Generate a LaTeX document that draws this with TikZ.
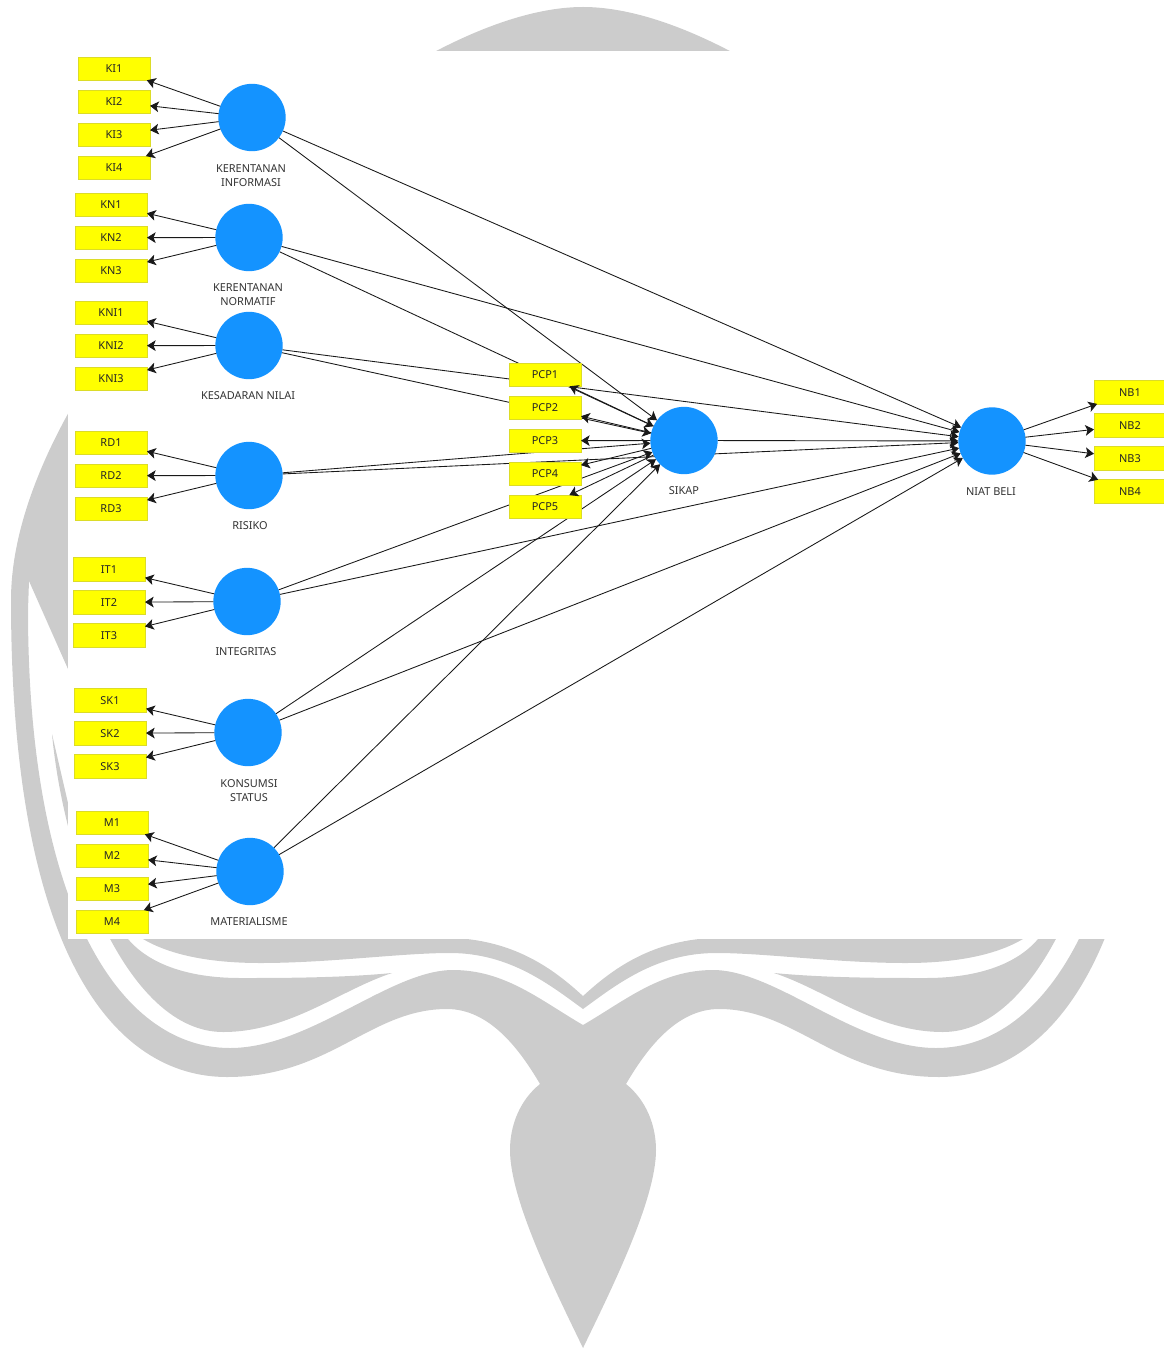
\documentclass[tikz,border=0pt]{standalone}
\usepackage{fontspec}
\setmainfont{Noto Sans}
\usetikzlibrary{arrows.meta,backgrounds}
\definecolor{indfill}{HTML}{FFFF00}
\definecolor{indline}{HTML}{DCDC28}
\definecolor{latfill}{HTML}{1493FF}
\definecolor{wmgrey}{HTML}{CCCCCC}
\definecolor{lbltext}{HTML}{333333}
\tikzset{
    ind/.style={draw=indline,fill=indfill,line width=0.6pt,minimum width=54pt,minimum height=17.4pt,inner sep=0pt,outer sep=0pt,font=\fontsize{8.2}{10}\selectfont,text=black!85},
    lat/.style={circle,fill=latfill,minimum size=50.5pt,inner sep=0pt,outer sep=0pt},
    lbl/.style={align=center,font=\fontsize{8.2}{10.8}\selectfont,text=lbltext,inner sep=0pt},
    lnk/.style={line width=0.65pt,black!90,-{Stealth[length=6.5pt,width=8pt,inset=1.6pt]}},
    wm/.style={fill=wmgrey}
}
\newcommand{\wmhalf}{
    %% outer band and stem
    \fill[wm] (583,7) .. controls (383,7) and (11,360) .. (11,600)
        .. controls (11,956) and (115,1077) .. (227,1077)
        .. controls (330,1077) and (370,1009) .. (447,1009)
        .. controls (490,1009) and (520,1050) .. (540,1084)
        .. controls (520,1100) and (510,1125) .. (510,1150)
        .. controls (510,1200) and (555,1290) .. (583,1348)
        -- (584,1100) -- (583,1025)
        .. controls (540,1000) and (505,970) .. (453,970)
        .. controls (390,970) and (310,1048) .. (230,1048)
        .. controls (118,1048) and (28,903) .. (28,610)
        -- (29,581) -- (68,669) -- (300,300) -- (584,60) -- cycle;
    %% inner wing
    \fill[wm] (52,734) .. controls (65,870) and (130,1032) .. (223,1032)
        .. controls (290,1032) and (340,990) .. (392,973)
        .. controls (340,978) and (280,978) .. (240,978)
        .. controls (190,978) and (150,965) .. (128,939)
        -- (68,803) -- cycle;
    %% upper band
    \fill[wm] (143,939) .. controls (170,955) and (210,963) .. (260,963)
        .. controls (330,963) and (400,953) .. (450,953)
        .. controls (510,953) and (550,985) .. (583,1009)
        -- (584,997) .. controls (555,970) and (520,945) .. (467,939)
        -- (467,930) -- (143,930) -- cycle;
}
\begin{document}
\begin{tikzpicture}[x=0.75pt,y=-0.75pt]
    \useasboundingbox (0,0) rectangle (1163,1348);
    %% latent variables
    \node[lat] (ki) at (252,117.5) {};
    \node[lat] (kn) at (249,237.5) {};
    \node[lat] (kni) at (249,345.5) {};
    \node[lat] (rd) at (249,475.5) {};
    \node[lat] (it) at (247,601.5) {};
    \node[lat] (sk) at (248,732.5) {};
    \node[lat] (m) at (250,871.5) {};
    \node[lat] (sikap) at (684,440.5) {};
    \node[lat] (nb) at (992,441) {};
    %% labels
    \node[lbl] (kilbl) at (251,175.5) {KERENTANAN\\INFORMASI};
    \node[lbl] (knlbl) at (248,294.5) {KERENTANAN\\NORMATIF};
    \node[lbl] (knilbl) at (248,395.5) {KESADARAN NILAI};
    \node[lbl] (rdlbl) at (250,525.5) {RISIKO};
    \node[lbl] (itlbl) at (246,651.5) {INTEGRITAS};
    \node[lbl] (sklbl) at (249,790.5) {KONSUMSI\\STATUS};
    \node[lbl] (mlbl) at (249,921.5) {MATERIALISME};
    \node[lbl] (sikaplbl) at (684,490.5) {SIKAP};
    \node[lbl] (nblbl) at (991,491.5) {NIAT BELI};
    %% indicators
    \foreach \lv/\x/\names in {ki/114/{KI1/68.7,KI2/101.7,KI3/134.7,KI4/167.7},
                               kn/111/{KN1/204.7,KN2/237.7,KN3/270.7},
                               kni/111/{KNI1/312.7,KNI2/345.7,KNI3/378.7},
                               rd/111/{RD1/442.7,RD2/475.7,RD3/508.7},
                               it/109/{IT1/569.3,IT2/602.3,IT3/635.3},
                               sk/110/{SK1/700.3,SK2/733.3,SK3/766.3},
                               m/112/{M1/822.7,M2/855.7,M3/888.7,M4/921.7},
                               sikap/545/{PCP1/374.7,PCP2/407.7,PCP3/440.7,PCP4/473.7,PCP5/506.7},
                               nb/1130/{NB1/392.3,NB2/425.3,NB3/458.3,NB4/491.3}}
        \foreach \n/\y in \names {
            \node[ind] (\n) at (\x,\y) {\n};
            \draw[lnk] (\lv) -- (\n);
        }
    %% watermark and paths behind the boxes
    \begin{scope}[on background layer]
        \wmhalf
        \begin{scope}[shift={(1166,0)},xscale=-1]
            \wmhalf
        \end{scope}
        \fill[white] (68,51) rectangle (1163,939);
        \foreach \lv in {ki,kn,kni,rd,it,sk,m} {
            \draw[lnk] (\lv) -- (sikap);
            \draw[lnk] (\lv) -- (nb);
        }
        \draw[lnk] (sikap) -- (nb);
    \end{scope}
\end{tikzpicture}
\end{document}
